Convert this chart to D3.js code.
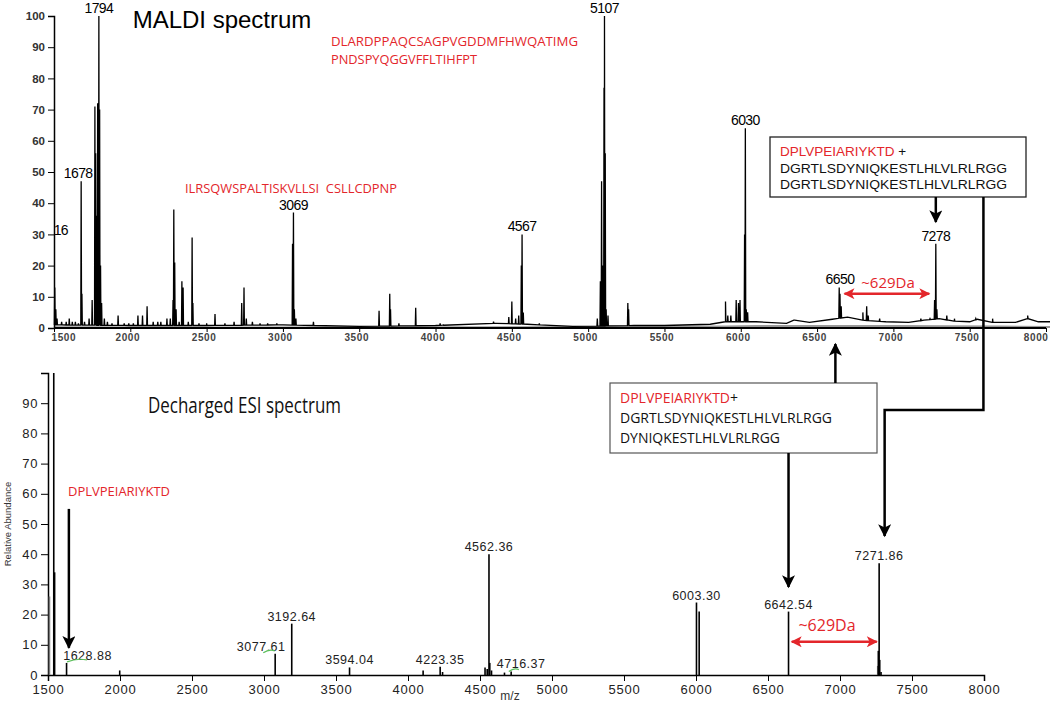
<!DOCTYPE html>
<html>
<head>
<meta charset="utf-8">
<script src="https://cdn.jsdelivr.net/npm/d3@7"></script>
<style>
  body { margin: 0; background: #fff; }
  text { font-family: "Liberation Sans", Arial, sans-serif; }
  .cal { font-family: "Open Sans", "Noto Sans", sans-serif; }
</style>
</head>
<body>
<svg width="1050" height="708"></svg>
<script>
// ---- MALDI spectrum (top) ----
// peaks: m/z and relative intensity (%)
var maldiMz = [1505, 1512, 1520, 1550, 1580, 1600, 1620, 1640, 1660, 1678, 1683, 1700, 1730, 1750, 1768, 1773, 1780, 1786,
  1794, 1799, 1805, 1812, 1830, 1850, 1880, 1920, 1960, 1990, 2020, 2050, 2080, 2110, 2150, 2180, 2200, 2240, 2262, 2280,
  2285, 2291, 2300, 2320, 2338, 2346, 2380, 2405, 2410, 2450, 2500, 2555, 2620, 2680, 2730, 2745, 2760, 2800, 2850, 2900,
  2960, 3063, 3069, 3075, 3085, 3200, 3630, 3700, 3705, 3760, 3870, 4030, 4050, 4380, 4480, 4500, 4525, 4545, 4562, 4567, 4575,
  4680, 5060, 5080, 5088, 5098, 5104, 5107, 5112, 5118, 5130, 5260, 5265, 5900, 5915, 5935, 5970, 5985, 5995, 6025, 6030, 6036,
  6045, 6350, 6645, 6650, 6658, 6800, 6825, 6835, 6910, 7180, 7240, 7270, 7278, 7285, 7350, 7400, 7540, 7650, 7880];
var maldiInt = [13, 6, 3, 2, 2, 3, 2, 2, 1.5, 47, 11, 2, 3, 9, 71, 56, 36, 72,
  100, 70, 20, 8, 3, 2, 1.5, 4, 1.5, 1.5, 1.5, 4, 4, 7, 2, 2, 2, 3, 3, 9,
  38, 21, 6, 2, 15, 13, 2, 29, 8, 1.5, 1.5, 4.5, 1.5, 2, 8, 13, 3, 2, 1.5, 1.5,
  1.5, 27, 37, 6, 3, 2, 5.5, 11, 6, 1.5, 6.5, 1.5, 1, 2, 3.5, 8.5, 3, 4, 20, 30, 5,
  1.5, 3, 15, 47, 20, 77, 100, 56, 6, 4, 8, 6, 8.5, 4, 4, 9, 8, 9, 30, 64, 6,
  5, 2.5, 13, 11, 7, 5, 7, 4, 3, 3, 3, 9, 27, 6, 4, 3, 3, 3, 4];
// baseline of the black trace
var maldiBaseMz = [1500, 2000, 2500, 3000, 3500, 4000, 4400, 4600, 4900, 5300, 5500, 5800, 5900, 6100, 6300, 6350, 6450,
  6600, 6700, 6800, 6950, 7100, 7200, 7300, 7400, 7500, 7550, 7650, 7800, 7880, 7950, 8100];
var maldiBaseInt = [1, 0.8, 0.8, 1, 0.5, 0.8, 1.5, 1.2, 0.5, 0.8, 0.8, 1.2, 2, 2, 1.5, 2.5, 1.8,
  2.8, 3.5, 2.5, 2, 1.8, 2.5, 3, 2.2, 2, 2.8, 1.8, 1.8, 3, 2, 2];
// lower grey trace
var maldiGrayMz = [1500, 3000, 4500, 5900, 6100, 7000, 7700, 8100];
var maldiGrayInt = [0.6, 0.5, 0.6, 0.8, 1, 1, 0.8, 0.6];

var maldiLabels = ["16", "1678", "1794", "3069", "4567", "5107", "6030", "6650", "7278"];
var maldiLabelMz = [1545, 1678, 1794, 3069, 4567, 5107, 6030, 6650, 7278];
var maldiLabelInt = [29, 47, 100, 37, 30, 100, 64, 13, 27];
var maldiLabelDx = [0, -3, 0, 0, 0, 0, 0, 0, 0];

// ---- Decharged ESI spectrum (bottom) ----
var esiMz = [1510, 1540, 1546, 1628.88, 1998, 3077.61, 3192.64, 3594.04, 4105, 4223.35, 4240, 4535, 4550, 4562.36, 4568, 4580,
  4670, 4716.37, 6003.30, 6022, 6642.54, 7262, 7266, 7271.86, 7276, 7285];
var esiInt = [26, 100, 34, 4, 1.5, 7, 17, 2.5, 1.5, 2.7, 1, 2.5, 2, 40, 4, 1.5,
  0.8, 1.2, 24, 21, 21, 3, 8, 37, 5, 1];
var esiGray = [1510, 7262];

var esiLabels = ["1628.88", "3077.61", "3192.64", "3594.04", "4223.35", "4562.36", "4716.37", "6003.30", "6642.54", "7271.86"];
var esiLabelDx = [21, -14, 0, 0, 0, 0, 10, 0, 0, 0];
var esiGreen = [[1632, 1770], [2995, 3075], [4700, 4770]];

var xTicks = d3.range(1500, 8001, 500);
var yTicksTop = d3.range(0, 101, 10);
var yTicksBot = d3.range(0, 91, 10);

var red = "#e3262b";
var svg = d3.select("svg");

var xTop = d3.scaleLinear().domain([1500, 8000]).range([54, 1046]);
var yTop = d3.scaleLinear().domain([0, 100]).range([328, 16]);
var xBot = d3.scaleLinear().domain([1500, 8000]).range([48, 984]);
var yBot = d3.scaleLinear().domain([0, 100]).range([675, 373]);

var defs = svg.append("defs");
function marker(id, color, w, h) {
  defs.append("marker").attr("id", id)
    .attr("viewBox", "0 0 10 10").attr("refX", 9).attr("refY", 5)
    .attr("markerWidth", w).attr("markerHeight", h).attr("markerUnits", "userSpaceOnUse")
    .attr("orient", "auto-start-reverse")
    .append("path").attr("d", "M0,0 L10,5 L0,10 L2.5,5 Z").attr("fill", color);
}
marker("ab", "#000", 15, 13);
marker("ar", red, 13, 11);

// ---------- top panel ----------
var grayLine = d3.area().x(function (d) { return xTop(d[0]); })
  .y0(yTop(0)).y1(function (d) { return yTop(d[1]); });
svg.append("path").datum(maldiGrayMz.map(function (m, i) { return [m, maldiGrayInt[i]]; }))
  .attr("d", grayLine).attr("fill", "#999");

var baseAt = d3.scaleLinear().domain(maldiBaseMz).range(maldiBaseInt).clamp(true);
var pts = maldiBaseMz.map(function (m, i) { return [m, maldiBaseInt[i]]; });
maldiMz.forEach(function (m, i) {
  var b = baseAt(m);
  pts.push([m - 2.5, b], [m, Math.max(b, maldiInt[i])], [m + 2.5, b]);
});
pts.sort(function (a, b) { return a[0] - b[0]; });
svg.append("path").datum(pts)
  .attr("d", d3.line().x(function (d) { return xTop(d[0]); }).y(function (d) { return yTop(d[1]); }))
  .attr("fill", "none").attr("stroke", "#000").attr("stroke-width", 1.3);

var gxT = svg.append("g").attr("transform", "translate(0," + yTop(0) + ")");
gxT.call(d3.axisBottom(xTop).tickValues(d3.range(1500, 8101, 100)).tickSize(2).tickFormat(""));
gxT.call(d3.axisBottom(xTop).tickValues(xTicks).tickSize(4).tickFormat(d3.format("d")));
gxT.select(".domain").attr("stroke-width", 2).attr("d", "M" + xTop(1500) + ",0H1046");
gxT.selectAll("text").attr("font-size", 10).attr("font-weight", "bold").attr("fill", "#444")
  .attr("letter-spacing", 0.6).attr("dy", "0.6em")
  .attr("text-anchor", function (d) { return d === 8000 ? "end" : d === 1500 ? "start" : "middle"; })
  .attr("dx", function (d) { return d === 8000 ? 2 : d === 1500 ? -3 : -3; });

var gyT = svg.append("g").attr("transform", "translate(" + xTop(1500) + ",0)");
gyT.call(d3.axisLeft(yTop).tickValues(d3.range(0, 101, 2)).tickSize(3).tickFormat(""));
gyT.call(d3.axisLeft(yTop).tickValues(yTicksTop).tickSize(6));
gyT.select(".domain").attr("stroke-width", 1.5);
gyT.selectAll("text").attr("font-size", 11.5).attr("font-weight", "bold").attr("fill", "#333");

svg.append("g").selectAll("text").data(maldiLabels).join("text")
  .attr("x", function (d, i) { return xTop(maldiLabelMz[i]) + maldiLabelDx[i]; })
  .attr("y", function (d, i) { return yTop(maldiLabelInt[i]) - 3; })
  .attr("text-anchor", "middle").attr("font-size", 14).attr("letter-spacing", -0.6)
  .text(function (d) { return d; });

svg.append("text").attr("x", 222).attr("y", 28).attr("text-anchor", "middle")
  .attr("font-size", 24).text("MALDI spectrum");

svg.append("text").attr("class", "cal").attr("x", 331).attr("y", 46).attr("fill", red)
  .attr("font-size", 13).attr("textLength", 247).attr("lengthAdjust", "spacingAndGlyphs")
  .text("DLARDPPAQCSAGPVGDDMFHWQATIMG");
svg.append("text").attr("class", "cal").attr("x", 331).attr("y", 64).attr("fill", red)
  .attr("font-size", 13).attr("textLength", 146).attr("lengthAdjust", "spacingAndGlyphs")
  .text("PNDSPYQGGVFFLTIHFPT");
svg.append("text").attr("class", "cal").attr("x", 185).attr("y", 193).attr("fill", red)
  .attr("font-size", 13).attr("textLength", 212).attr("lengthAdjust", "spacingAndGlyphs")
  .attr("xml:space", "preserve")
  .text("ILRSQWSPALTISKVLLSI  CSLLCDPNP");

// top annotation box
svg.append("rect").attr("x", 770).attr("y", 137).attr("width", 256).attr("height", 60)
  .attr("fill", "#fff").attr("stroke", "#222").attr("stroke-width", 1.3);
var t1 = svg.append("text").attr("x", 780).attr("y", 156).attr("font-size", 13.5);
t1.append("tspan").attr("fill", red).text("DPLVPEIARIYKTD");
t1.append("tspan").attr("fill", "#111").text(" +");
["DGRTLSDYNIQKESTLHLVLRLRGG", "DGRTLSDYNIQKESTLHLVLRLRGG"].forEach(function (s, i) {
  svg.append("text").attr("x", 780).attr("y", 173 + i * 16).attr("font-size", 13.5)
    .attr("textLength", 227).attr("lengthAdjust", "spacingAndGlyphs").attr("fill", "#111").text(s);
});
// arrow box -> 7278
svg.append("line").attr("x1", xTop(7278)).attr("x2", xTop(7278)).attr("y1", 197).attr("y2", 222)
  .attr("stroke", "#000").attr("stroke-width", 2.5).attr("marker-end", "url(#ab)");

// red ~629Da (top)
svg.append("line").attr("x1", xTop(6680)).attr("x2", xTop(7235)).attr("y1", yTop(11)).attr("y2", yTop(11))
  .attr("stroke", red).attr("stroke-width", 2.5)
  .attr("marker-start", "url(#ar)").attr("marker-end", "url(#ar)");
svg.append("text").attr("class", "cal").attr("x", 888).attr("y", 288).attr("text-anchor", "middle")
  .attr("font-size", 15).attr("fill", red).text("~629Da");

// ---------- bottom panel ----------
var gxB = svg.append("g").attr("transform", "translate(0," + yBot(0) + ")");
gxB.call(d3.axisBottom(xBot).tickValues(d3.range(1500, 8001, 100)).tickSize(4).tickFormat(""));
gxB.call(d3.axisBottom(xBot).tickValues(xTicks).tickSize(6).tickFormat(d3.format("d")));
gxB.select(".domain").attr("stroke-width", 1.5);
gxB.selectAll("text").attr("font-size", 13).attr("fill", "#222").attr("letter-spacing", 0.8).attr("dy", "0.8em");

var gyB = svg.append("g").attr("transform", "translate(" + xBot(1500) + ",0)");
gyB.call(d3.axisLeft(yBot).tickValues(d3.range(0, 101, 2)).tickSize(4).tickFormat(""));
gyB.call(d3.axisLeft(yBot).tickValues(yTicksBot).tickSize(7));
gyB.select(".domain").attr("stroke-width", 1.5);
gyB.selectAll("text").attr("font-size", 13).attr("fill", "#222").attr("letter-spacing", 0.6);

svg.append("g").selectAll("line").data(esiMz).join("line")
  .attr("x1", function (d) { return xBot(d); }).attr("x2", function (d) { return xBot(d); })
  .attr("y1", yBot(0)).attr("y2", function (d, i) { return yBot(esiInt[i]); })
  .attr("stroke", function (d) { return esiGray.indexOf(d) >= 0 ? "#777" : "#000"; })
  .attr("stroke-width", 1.6);

svg.append("g").selectAll("text").data(esiLabels).join("text")
  .attr("x", function (d, i) { return xBot(+d) + esiLabelDx[i]; })
  .attr("y", function (d) { return yBot(esiInt[esiMz.indexOf(+d)]) - 3; })
  .attr("text-anchor", "middle").attr("font-size", 12.5).attr("letter-spacing", 0.5).attr("fill", "#222")
  .text(function (d) { return d; });

svg.append("g").selectAll("path").data(esiGreen).join("path")
  .attr("d", function (d) {
    var x0 = xBot(d[0]), x1 = xBot(d[1]);
    var y = yBot(esiInt[esiMz.findIndex(function (m) { return Math.abs(m - d[0]) < 60 || Math.abs(m - d[1]) < 60; })]) - 2;
    return "M" + x0 + "," + (y + 1) + "Q" + ((x0 + x1) / 2) + "," + (y - 3) + " " + x1 + "," + (y - 1);
  })
  .attr("fill", "none").attr("stroke", "#5cbf5c").attr("stroke-width", 1.2);

svg.append("text").attr("transform", "translate(11," + yBot(50) + ") rotate(-90)")
  .attr("text-anchor", "middle").attr("font-size", 9.5).attr("fill", "#333").text("Relative Abundance");
svg.append("text").attr("x", 510).attr("y", 700).attr("text-anchor", "middle")
  .attr("font-size", 12).attr("fill", "#333").text("m/z");

svg.append("text").attr("class", "cal").attr("x", 148).attr("y", 413).attr("font-size", 21.5)
  .attr("textLength", 193).attr("lengthAdjust", "spacingAndGlyphs").attr("fill", "#111")
  .text("Decharged ESI spectrum");

svg.append("text").attr("class", "cal").attr("x", 68).attr("y", 496).attr("font-size", 13)
  .attr("textLength", 102).attr("lengthAdjust", "spacingAndGlyphs").attr("fill", red)
  .text("DPLVPEIARIYKTD");
svg.append("line").attr("x1", xBot(1645)).attr("x2", xBot(1645)).attr("y1", yBot(55)).attr("y2", yBot(9))
  .attr("stroke", "#000").attr("stroke-width", 2.5).attr("marker-end", "url(#ab)");

// middle annotation box
svg.append("rect").attr("x", 610).attr("y", 383).attr("width", 267).attr("height", 70)
  .attr("fill", "#fff").attr("stroke", "#555").attr("stroke-width", 1.2);
var t2 = svg.append("text").attr("class", "cal").attr("x", 620).attr("y", 403).attr("font-size", 14);
t2.append("tspan").attr("fill", red).text("DPLVPEIARIYKTD");
t2.append("tspan").attr("fill", "#111").text("+");
svg.append("text").attr("class", "cal").attr("x", 620).attr("y", 423).attr("font-size", 14)
  .attr("textLength", 212).attr("lengthAdjust", "spacingAndGlyphs").attr("fill", "#111")
  .text("DGRTLSDYNIQKESTLHLVLRLRGG");
svg.append("text").attr("class", "cal").attr("x", 620).attr("y", 443).attr("font-size", 14)
  .attr("textLength", 160).attr("lengthAdjust", "spacingAndGlyphs").attr("fill", "#111")
  .text("DYNIQKESTLHLVLRLRGG");

// middle box arrows
svg.append("line").attr("x1", xTop(6620)).attr("x2", xTop(6620)).attr("y1", 383).attr("y2", 344)
  .attr("stroke", "#000").attr("stroke-width", 2.5).attr("marker-end", "url(#ab)");
svg.append("line").attr("x1", xBot(6642.54)).attr("x2", xBot(6642.54)).attr("y1", 453).attr("y2", 587)
  .attr("stroke", "#000").attr("stroke-width", 2.5).attr("marker-end", "url(#ab)");

// long connector from top box to 7271.86
svg.append("path")
  .attr("d", "M" + xTop(7590) + ",197V410H" + xBot(7310) + "V536")
  .attr("fill", "none").attr("stroke", "#000").attr("stroke-width", 2.5).attr("marker-end", "url(#ab)");

// red ~629Da (bottom)
svg.append("line").attr("x1", xBot(6665)).attr("x2", xBot(7255)).attr("y1", yBot(11)).attr("y2", yBot(11))
  .attr("stroke", red).attr("stroke-width", 2.5)
  .attr("marker-start", "url(#ar)").attr("marker-end", "url(#ar)");
svg.append("text").attr("class", "cal").attr("x", 827).attr("y", 631).attr("text-anchor", "middle")
  .attr("font-size", 16).attr("fill", red).text("~629Da");
</script>
</body>
</html>
